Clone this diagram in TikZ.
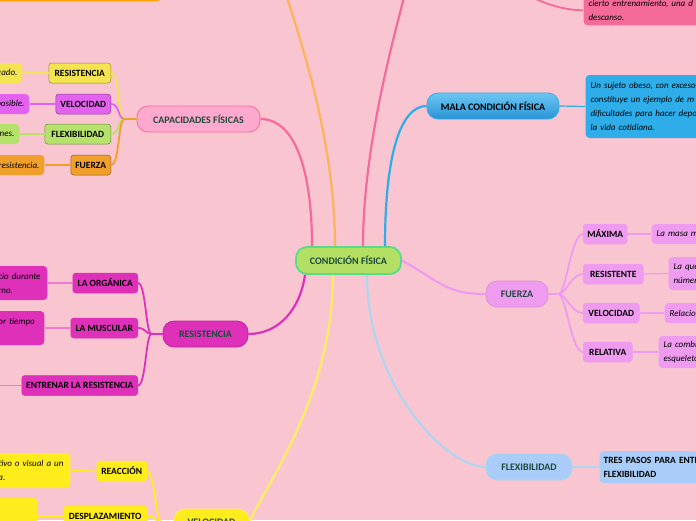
\documentclass[tikz,border=0pt]{standalone}
\usepackage{fontspec}
\setmainfont{Carlito}
\usetikzlibrary{positioning}
\definecolor{cbg}{HTML}{F9C5D1}
\definecolor{cgreen}{HTML}{B4DF65}
\definecolor{cgreenline}{HTML}{57DC8B}
\definecolor{ctext}{HTML}{1C4A3C}
\definecolor{cpink}{HTML}{F46B9A}
\definecolor{cpinkfill}{HTML}{FFA9CE}
\definecolor{corange}{HTML}{FDB35A}
\definecolor{corangebox}{HTML}{FFA200}
\definecolor{cblue}{HTML}{2EADE8}
\definecolor{cbluetop}{HTML}{6CC6F2}
\definecolor{cbluebot}{HTML}{2A93D6}
\definecolor{cmag}{HTML}{DF30B9}
\definecolor{cmaglight}{HTML}{F27ACF}
\definecolor{cyellow}{HTML}{FFEC1C}
\definecolor{cyellowline}{HTML}{FFEF5E}
\definecolor{cviolet}{HTML}{EF9BEF}
\definecolor{csky}{HTML}{A9CDF8}
\definecolor{cskyline}{HTML}{AFD6EE}
\definecolor{cresy}{HTML}{F4E452}
\definecolor{cvelv}{HTML}{E262EF}
\definecolor{cflexg}{HTML}{B6E16A}
\definecolor{cfuerzao}{HTML}{F0A02A}
\tikzset{
  every picture/.style={line width=1.2pt},
  topic/.style={draw=#1, rounded corners=11pt, minimum height=26pt, inner sep=4pt, font=\fontsize{10}{12}\selectfont\bfseries, text=ctext},
  tag/.style={fill=#1, draw=#1!60!black, line width=0.5pt, rounded corners=3pt, minimum height=20pt, inner sep=4pt, font=\fontsize{9.5}{11}\selectfont\bfseries},
  note/.style={fill=#1, rounded corners=4pt, inner sep=5pt, align=left, font=\fontsize{9}{14}\selectfont\itshape},
  link/.style={draw=#1, line width=2.2pt},
  twig/.style={draw=#1, line width=1.8pt},
  leaf/.style={draw=#1, line width=1.2pt},
}
\begin{document}
\begin{tikzpicture}[x=1pt, y=-1pt]
  \useasboundingbox (0,0) rectangle (696,520);
  \fill[cbg] (0,0) rectangle (696,520);
  \clip (0,0) rectangle (696,520);

  % centre
  \node[topic=cgreenline, fill=cgreen, line width=1.8pt, minimum width=105pt, minimum height=27pt] (cen) at (348.5,260.5) {CONDICIÓN FÍSICA};

  % branches above the top edge
  \coordinate (top-o) at (272,-50);
  \coordinate (top-p) at (416,-50);
  \node[fill=corangebox, rounded corners=4pt, minimum width=220pt, minimum height=40pt, anchor=south east] (tl) at (161,2) {};
  \node[note=cpink, anchor=south west, text width=130pt] (tr) at (583,26) {cierto entrenamiento, una d\\descanso.};
  \draw[link=corange] ([xshift=-13.5pt]cen.north) .. controls +(0,-130) and +(10,40) .. (top-o);
  \draw[link=cpink] ([xshift=14.5pt]cen.north) .. controls +(0,-120) and +(-8,40) .. (top-p);
  \draw[twig=cpink] (top-p) .. controls +(60,0) and +(-60,0) .. (tr.west);

  % capacidades fisicas
  \node[topic=cpink, fill=cpinkfill, line width=0.8pt, minimum width=123pt] (cap) at (198.5,119) {CAPACIDADES FÍSICAS};
  \node[tag=cresy, anchor=east, minimum width=62pt] (cres) at (111,73) {RESISTENCIA};
  \node[tag=cvelv, anchor=east, minimum width=55pt] (cvel) at (111,104) {VELOCIDAD};
  \node[tag=cflexg, anchor=east, minimum width=66pt] (cflex) at (111,134) {FLEXIBILIDAD};
  \node[tag=cfuerzao, anchor=east, minimum width=40pt] (cfue) at (111,165) {FUERZA};
  \node[note=cresy, anchor=east, minimum height=20pt] (cres-n) at (23,73) {gado.};
  \node[note=cvelv, anchor=east, minimum height=20pt] (cvel-n) at (30,104) {posible.};
  \node[note=cflexg, anchor=east, minimum height=20pt] (cflex-n) at (20,134) {nes.};
  \node[note=cfuerzao, anchor=east, minimum height=20pt] (cfue-n) at (45,165) {resistencia.};
  \draw[link=cpink] ([xshift=-36.5pt]cen.north) .. controls +(0,-75) and +(35,0) .. (cap.east);
  \foreach \t/\c in {cres/cresy, cvel/cvelv, cflex/cflexg, cfue/cfuerzao} {
    \draw[twig=\c] (cap.west) -- ++(-12,0) .. controls +(-7,0) and +(9,0) .. (\t.east);
    \draw[leaf=\c] (\t.west) -- (\t-n.east);
  }

  % mala condicion
  \node[topic=cblue, top color=cbluetop, bottom color=cbluebot, line width=0.8pt, minimum width=132pt, text=black] (mala) at (493,106) {MALA CONDICIÓN FÍSICA};
  \node[note=cblue, anchor=west, text width=140pt, minimum height=63pt] (mala-n) at (585,106.5) {Un sujeto obeso, con exceso\\constituye un ejemplo de m\\dificultades para hacer depor\\la vida cotidiana.};
  \draw[link=cblue] ([xshift=36.5pt]cen.north) .. controls +(0,-95) and +(-25,0) .. (mala.west);
  \draw[leaf=cblue] (mala.east) -- (mala-n.west);

  % resistencia
  \node[topic=cmag!85!black, fill=cmag, line width=0.8pt, minimum width=85pt] (res) at (205.5,334) {RESISTENCIA};
  \node[tag=cmag, draw=cmag, anchor=east, minimum width=65pt] (org) at (138,283) {LA ORGÁNICA};
  \node[tag=cmag, draw=cmag, anchor=east, minimum width=67pt] (mus) at (138,328) {LA MUSCULAR};
  \node[tag=cmag, draw=cmag, anchor=east, minimum width=116pt] (ent) at (138,385.5) {ENTRENAR LA RESISTENCIA};
  \node[note=cmag, anchor=east, text width=44pt, minimum height=34pt] (org-n) at (48,283) {cio durante\\rno.};
  \node[note=cmag, anchor=east, text width=41pt, minimum height=34pt] (mus-n) at (45,328) {or tiempo\\~};
  \coordinate (ent-n) at (-2,385.5);
  \draw[link=cmag] ([xshift=-43.5pt]cen.south) .. controls +(-5,35) and +(30,0) .. (res.east);
  \foreach \t in {org,mus,ent}
    \draw[twig=cmag] (res.west) -- ++(-11,0) .. controls +(-6,0) and +(8,0) .. (\t.east);
  \foreach \t in {org,mus,ent}
    \draw[leaf=cmaglight] (\t.west) -- (\t-n.east);

  % velocidad
  \node[topic=cyellowline, fill=cyellow, line width=0.8pt, minimum width=75pt] (vel) at (211.5,522) {VELOCIDAD};
  \node[tag=cyellow, draw=cyellow, anchor=east, minimum width=50pt] (rea) at (147,471) {REACCIÓN};
  \node[tag=cyellow, draw=cyellow, anchor=east, minimum width=83pt] (des) at (147,516) {DESPLAZAMIENTO};
  \node[note=cyellow, anchor=east, text width=67pt, minimum height=35pt] (rea-n) at (71,470.5) {tivo o visual a un\\a.};
  \node[note=cyellow, anchor=east, minimum width=60pt, minimum height=36pt] (des-n) at (38,516) {};
  \draw[link=cyellowline] ([xshift=-15.5pt]cen.south) .. controls +(0,120) and +(18,-40) .. (vel.east);
  \foreach \t in {rea,des} {
    \draw[twig=cyellow] (vel.west) -- ++(-12,0) .. controls +(-6,0) and +(8,0) .. (\t.east);
    \draw[leaf=cyellow] (\t.west) -- (\t-n.east);
  }

  % fuerza
  \node[topic=cviolet!90!black, fill=cviolet, line width=0.6pt, minimum width=62pt] (fue) at (517,294) {FUERZA};
  \node[tag=cviolet, draw=cviolet, anchor=west, minimum width=43pt] (max) at (583,234) {MÁXIMA};
  \node[tag=cviolet, draw=cviolet, anchor=west, minimum width=60pt] (rst) at (583,274) {RESISTENTE};
  \node[tag=cviolet, draw=cviolet, anchor=west, minimum width=56pt] (vlc) at (583,313) {VELOCIDAD};
  \node[tag=cviolet, draw=cviolet, anchor=west, minimum width=49pt] (rel) at (583,352) {RELATIVA};
  \node[note=cviolet, anchor=west, text width=70pt, minimum height=20pt] (max-n) at (651,234) {La masa m};
  \node[note=cviolet, anchor=west, text width=70pt, minimum height=33pt] (rst-n) at (668,273.5) {La que\\númer};
  \node[note=cviolet, anchor=west, text width=70pt, minimum height=20pt] (vlc-n) at (664,313) {Relacion};
  \node[note=cviolet, anchor=west, text width=70pt, minimum height=32pt] (rel-n) at (658,352) {La combi\\esqueleto};
  \draw[link=cviolet] (cen.east) .. controls +(40,22) and +(-40,0) .. (fue.west);
  \foreach \t in {max,rst,vlc,rel} {
    \draw[twig=cviolet] (fue.east) -- ++(10,0) .. controls +(8,0) and +(-12,0) .. (\t.west);
    \draw[leaf=cviolet] (\t.east) -- (\t-n.west);
  }

  % flexibilidad
  \node[topic=cskyline, fill=csky, line width=0.8pt, minimum width=86pt] (flex) at (529,467) {FLEXIBILIDAD};
  \node[note=csky, anchor=west, text width=120pt, minimum height=32pt, font=\fontsize{9.5}{14}\selectfont\bfseries, inner sep=4pt] (flex-n) at (599,467) {TRES PASOS PARA ENTR\\FLEXIBILIDAD};
  \draw[link=cskyline] ([xshift=18.5pt]cen.south) .. controls +(0,110) and +(-40,0) .. (flex.west);
  \draw[leaf=cskyline] (flex.east) -- (flex-n.west);
\end{tikzpicture}
\end{document}
